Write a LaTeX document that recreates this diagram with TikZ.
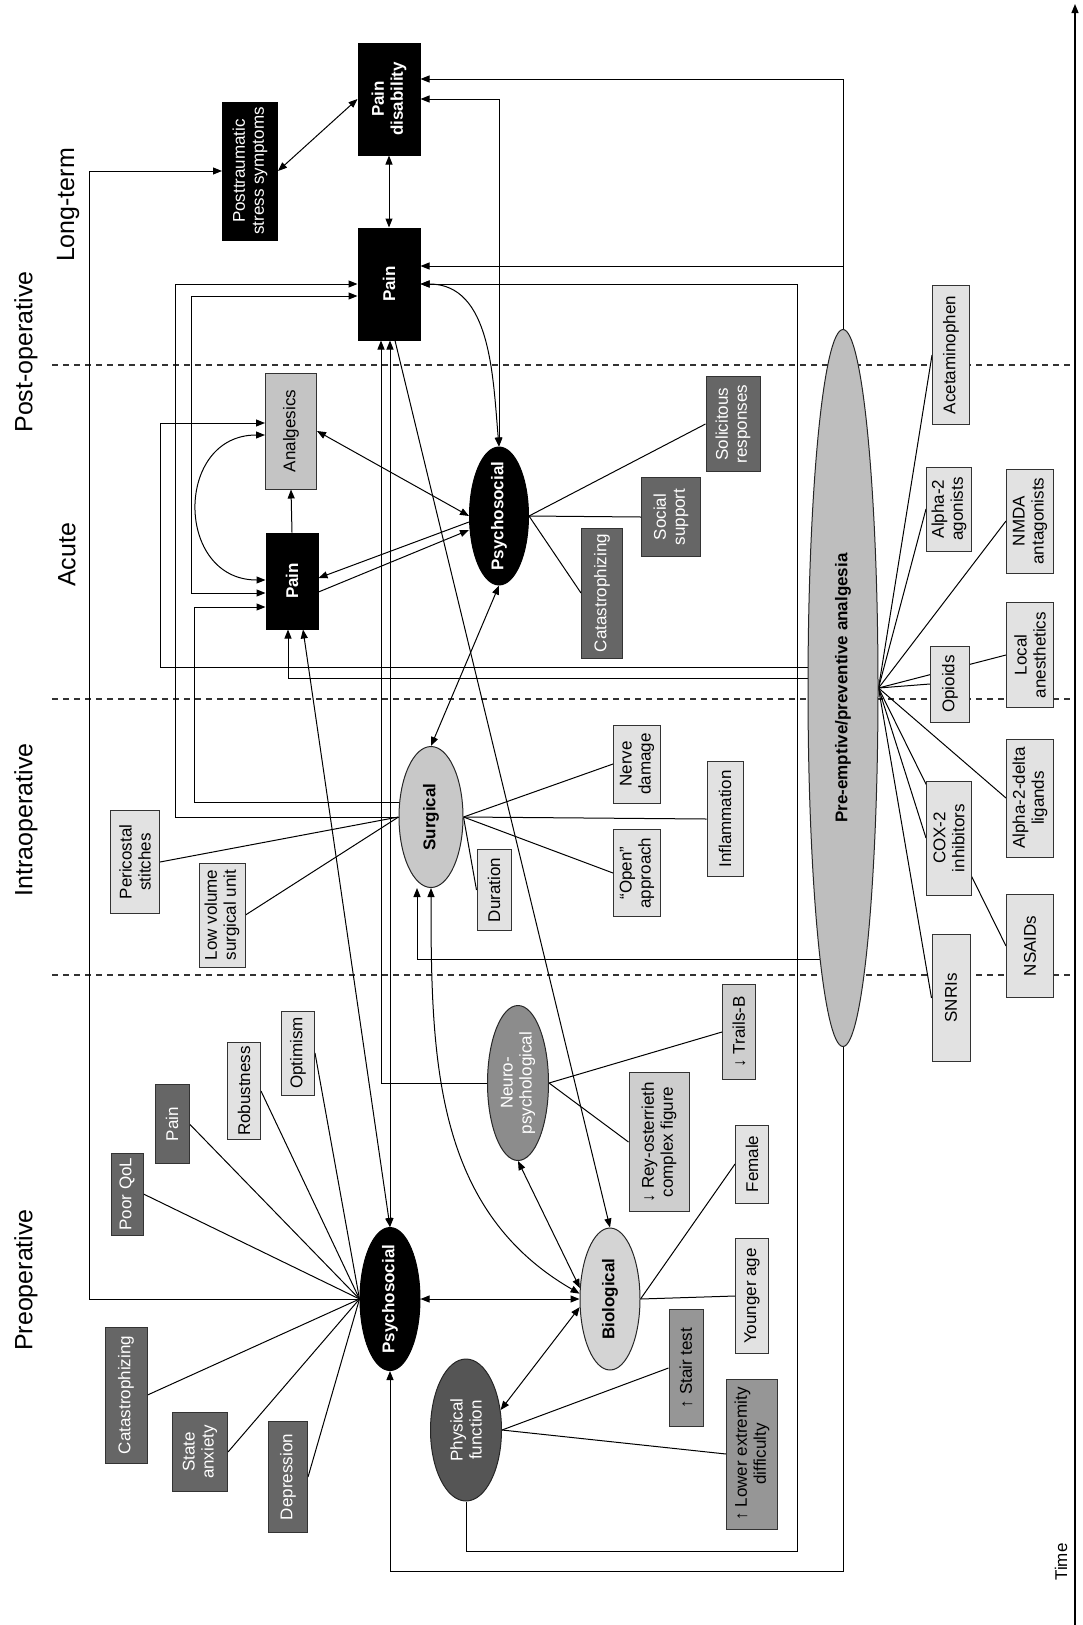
\documentclass[tikz,border=0pt]{standalone}
\usepackage{fontspec}
\setmainfont{Liberation Sans}
\usetikzlibrary{arrows.meta,shapes.geometric,backgrounds,calc}
\definecolor{satDark}{RGB}{102,102,102}
\definecolor{satLight}{RGB}{226,226,226}
\definecolor{satMed}{RGB}{150,150,150}
\definecolor{satGrey}{RGB}{206,206,206}
\definecolor{anaGrey}{RGB}{196,196,196}
\definecolor{preGrey}{RGB}{190,190,190}
\definecolor{surgGrey}{RGB}{200,200,200}
\definecolor{bioGrey}{RGB}{212,212,212}
\definecolor{neuroGrey}{RGB}{140,140,140}
\definecolor{physGrey}{RGB}{85,85,85}
\newcommand{\diagfont}{\fontsize{17}{19}\selectfont}
\newcommand{\stagefont}{\fontsize{25}{28}\selectfont}

\begin{document}
\begin{tikzpicture}[x=1pt, y=1pt,
    sz/.style 2 args={minimum height=#1, minimum width=#2},
    rbox/.style={rectangle, rotate=90, draw=black!80, line width=1pt, align=center,
                 inner sep=2pt, font=\diagfont},
    blk/.style={rbox, fill=black, draw=black, text=white, font=\diagfont\bfseries},
    darkbox/.style={rbox, fill=satDark, text=white},
    litebox/.style={rbox, fill=satLight},
    medbox/.style={rbox, fill=satMed},
    greybox/.style={rbox, fill=satGrey},
    oval/.style={ellipse, rotate=90, draw=black!85, line width=1pt, align=center,
                 inner xsep=-10pt, inner ysep=0pt, font=\diagfont\bfseries},
    stagelbl/.style={rotate=90, font=\stagefont},
    phaseline/.style={line width=1.3pt, dash pattern=on 6pt off 5pt, black!80},
    lnk/.style={line width=1pt},
    arr/.style={-{Triangle[length=9pt,width=7pt]}, line width=1pt},
    dbl/.style={{Triangle[length=9pt,width=7pt]}-{Triangle[length=9pt,width=7pt]}, line width=1pt}
  ]
  \useasboundingbox (0,0) rectangle (1083,-1625);

  \node[stagelbl] (lterm) at (68,-205) {Long-term};
  \node[stagelbl] (postop) at (26,-352) {Post-operative};
  \node[stagelbl] (acute) at (67,-555) {Acute};
  \node[stagelbl] (intraop) at (26,-820) {Intraoperative};
  \node[stagelbl] (preop) at (26,-1280) {Preoperative};
  \node[stagelbl, font=\diagfont] (time) at (1061,-1562) {Time};
  \coordinate (t0) at (1075,-1625);
  \coordinate (t1) at (1075,-4);

  \node[blk, sz={62}{112}] (pdis) at (389,-99) {Pain\\disability};
  \node[blk, sz={55}{138}, font=\diagfont] (ptss) at (250,-171) {Posttraumatic\\stress symptoms};
  \node[blk, sz={62}{112}] (painpost) at (389,-284) {Pain};
  \node[blk, sz={52}{96}] (apain) at (292,-581) {Pain};
  \node[rbox, fill=anaGrey, sz={51}{116}] (ana) at (291,-431) {Analgesics};
  \node[oval, fill=black, draw=black, text=white, sz={59}{138}] (apsy) at (499,-516) {Psychosocial};
  \node[darkbox, sz={41}{130}] (acat) at (602,-593) {Catastrophizing};
  \node[darkbox, sz={59}{79}] (soc) at (671,-517) {Social\\support};
  \node[darkbox, sz={54}{95}] (sol) at (733,-424) {Solicitous\\responses};

  \node[oval, fill=preGrey, sz={70}{717}] (pre) at (843,-688) {Pre-emptive/preventive analgesia};
  \node[litebox, sz={37}{139}] (acet) at (951,-355) {Acetaminophen};
  \node[litebox, sz={45}{84}] (alph) at (949,-509) {Alpha-2\\agonists};
  \node[litebox, sz={47}{104}] (nmda) at (1030,-521) {NMDA\\antagonists};
  \node[litebox, sz={39}{76}] (opi) at (950,-684) {Opioids};
  \node[litebox, sz={47}{105}] (loc) at (1030,-655) {Local\\anesthetics};
  \node[litebox, sz={47}{118}] (a2d) at (1030,-798) {Alpha-2-delta\\ligands};
  \node[litebox, sz={45}{114}] (cox) at (949,-838) {COX-2\\inhibitors};
  \node[litebox, sz={47}{103}] (nsaid) at (1030,-946) {NSAIDs};
  \node[litebox, sz={38}{127}] (snri) at (951,-998) {SNRIs};

  \node[oval, fill=surgGrey, sz={64}{141}] (surg) at (431,-817) {Surgical};
  \node[litebox, sz={49}{103}] (peri) at (135,-862) {Pericostal\\stitches};
  \node[litebox, sz={46}{104}] (lowv) at (222,-915) {Low volume\\surgical unit};
  \node[litebox, sz={34}{81}] (dur) at (494,-890) {Duration};
  \node[litebox, sz={47}{87}] (open) at (637,-873) {``Open''\\approach};
  \node[litebox, sz={36}{115}] (infl) at (725,-819) {Inflammation};
  \node[litebox, sz={47}{78}] (nerve) at (637,-764) {Nerve\\damage};

  \node[oval, fill=neuroGrey, text=white, font=\diagfont, sz={61}{155}] (neuro) at (518,-1083) {Neuro-\\psychological};
  \node[greybox, sz={33}{95}] (trails) at (739,-1032) {↓ Trails-B};
  \node[greybox, sz={60}{139}] (rey) at (659,-1142) {↓ Rey-osterrieth\\complex figure};

  \node[oval, fill=bioGrey, sz={60}{142}] (bio) at (610,-1299) {Biological};
  \node[litebox, sz={33}{78}] (fem) at (752,-1164) {Female};
  \node[litebox, sz={33}{115}] (young) at (752,-1296) {Younger age};
  \node[oval, fill=physGrey, text=white, font=\diagfont, sz={71}{142}] (phys) at (466,-1430) {Physical\\function};
  \node[medbox, sz={34}{117}] (stair) at (686,-1368) {↑ Stair test};
  \node[medbox, sz={51}{150}] (lower) at (752,-1454) {↑ Lower extremity\\difficulty};

  \node[oval, fill=black, draw=black, text=white, sz={60}{143}] (ppsy) at (390,-1299) {Psychosocial};
  \node[darkbox, sz={42}{136}] (pcat) at (126,-1395) {Catastrophizing};
  \node[darkbox, sz={55}{79}] (sanx) at (200,-1452) {State\\anxiety};
  \node[darkbox, sz={39}{111}] (dep) at (288,-1477) {Depression};
  \node[darkbox, sz={32}{82}] (qol) at (127,-1194) {Poor QoL};
  \node[darkbox, sz={34}{79}] (ppain) at (172,-1124) {Pain};
  \node[litebox, sz={33}{97}] (rob) at (244,-1091) {Robustness};
  \node[litebox, sz={33}{84}] (opt) at (298,-1053) {Optimism};

  \begin{scope}[on background layer]
    \foreach \y in {365,699,975}
      \draw[phaseline] (52,-\y)--(1075,-\y);
    \draw[arr, line width=1.3pt] (t0)--(t1);

    \draw[dbl] (pdis.west)--(painpost.east);
    \draw[dbl] (ptss.south)--(pdis.north);
    \draw[arr] (ppsy.north)--++(-270,0)|-(ptss.north);
    \draw[arr] (pre.east)|-([yshift=20]pdis.south);
    \draw[arr] (pre.east)|-([yshift=18]painpost.south);
    \draw[dbl] (apsy.east)|-(pdis.south);
    \draw[dbl] (painpost.south) to[out=0,in=95] (apsy.east);
    \draw[arr] (phys.west)|-(797,-1551)|-(painpost.south);
    \draw[arr] (pre.west)|-([yshift=-200]ppsy.west)--(ppsy.west);

    \draw[arr] (surg.north)--++(-223,0)|-(painpost.north);
    \draw[arr] ([yshift=15]surg.north)--++(-204,0)|-([yshift=-26]apain.north);
    \draw[dbl] ([yshift=-12]apain.north)--++(-74,0)|-([yshift=-12]painpost.north);
    \draw[arr] ([yshift=21]pre.north)--++(-647,0)|-([yshift=8]ana.north);
    \draw[arr] ([yshift=10]pre.north)-|([xshift=-4]apain.west);
    \draw[dbl] ([yshift=-4]ana.north) to[out=180,in=180,looseness=1.6] ([yshift=1]apain.north);
    \draw[arr] (apain.east)--(ana.west);
    \draw[dbl] (ana.south)--(apsy.north);
    \draw[arr] ([yshift=-6]apsy.north)--([yshift=3]apain.south);
    \draw[arr] ([yshift=-11]apain.south)--([yshift=-14]apsy.north);
    \draw[dbl] (apsy.west)--(surg.east);
    \foreach \n in {acat,soc,sol}
      \draw[lnk] (apsy.south)--(\n.north);

    \foreach \n in {acet,alph,nmda,opi,loc,a2d,cox,nsaid,snri}
      \draw[lnk] (pre.south)--(\n.north);
    \draw[arr] ([yshift=-271]pre.center)-|([xshift=-14]surg.west);

    \foreach \n in {peri,lowv}
      \draw[lnk] (surg.north)--(\n.south);
    \foreach \n in {dur,open,infl,nerve}
      \draw[lnk] (surg.south)--(\n.north);
    \draw[dbl] (surg.west) to[out=-90,in=150] (bio.80);

    \draw[arr] (neuro.north)-|([xshift=-8]painpost.west);
    \foreach \n in {trails,rey}
      \draw[lnk] (neuro.south)--(\n.north);
    \draw[dbl] (neuro.west)--(bio.70);

    \draw[dbl] (ppsy.east)--(ppsy.east|-painpost.west);
    \draw[dbl] ([xshift=11]apain.west)--(ppsy.east);
    \draw[arr] ([xshift=6]painpost.west)--(bio.east);
    \draw[dbl] (ppsy.south)--(bio.north);
    \draw[dbl] (phys.-60)--(bio.105);
    \foreach \n in {fem,young}
      \draw[lnk] (bio.south)--(\n.north);
    \foreach \n in {stair,lower}
      \draw[lnk] (phys.south)--(\n.north);
    \foreach \n in {pcat,sanx,dep,qol,ppain,rob,opt}
      \draw[lnk] (\n.south)--(ppsy.north);
  \end{scope}
\end{tikzpicture}
\end{document}
